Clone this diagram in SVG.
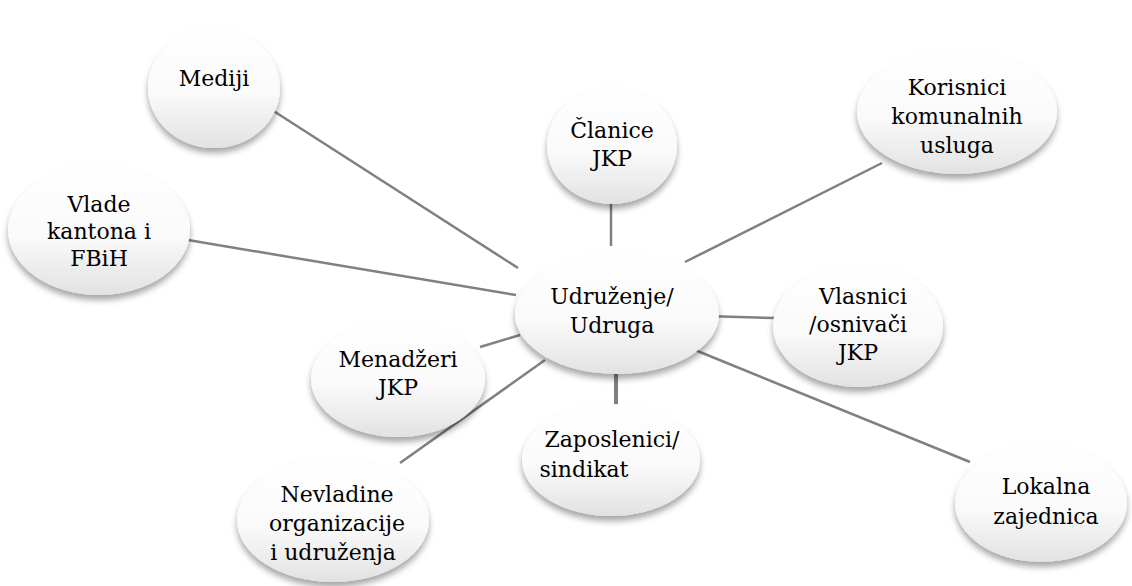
<svg xmlns="http://www.w3.org/2000/svg" width="1132" height="586" viewBox="0 0 1132 586">
<defs>
<linearGradient id="g" x1="0" y1="0" x2="0" y2="1">
<stop offset="0" stop-color="#ffffff"/>
<stop offset="0.55" stop-color="#fafafa"/>
<stop offset="1" stop-color="#e2e2e2"/>
</linearGradient>
<filter id="sh" x="-20%" y="-20%" width="140%" height="150%">
<feDropShadow dx="0" dy="5" stdDeviation="3" flood-color="#000" flood-opacity="0.35"/>
</filter>
</defs>
<style>
.n{fill:url(#g);filter:url(#sh)}
.c line{stroke:#808080;stroke-width:2.5}
.t text{font-size:22px;fill:#000;text-anchor:middle}
</style>
<rect width="1132" height="586" fill="#fff"/>
<g class="c" id="connectors">
<line x1="272" y1="110" x2="518" y2="268"/>
<line x1="188" y1="240" x2="516" y2="295"/>
<line x1="480" y1="347" x2="520" y2="335"/>
<line x1="400" y1="463" x2="545" y2="360"/>
<line x1="616" y1="372" x2="616" y2="406" style="stroke-width:4"/>
<line x1="695" y1="350" x2="970" y2="462"/>
<line x1="705" y1="316" x2="775" y2="318"/>
<line x1="685" y1="262" x2="882" y2="163"/>
<line x1="611" y1="203" x2="611" y2="246"/>
</g>
<g class="t">
<g id="mediji"><ellipse class="n" cx="214" cy="88" rx="66" ry="60"/><text x="214" y="86" font-family="DejaVu Serif, serif">Mediji</text></g>
<g id="clanice"><ellipse class="n" cx="612" cy="146" rx="65" ry="58"/><text x="612" y="138" font-family="DejaVu Serif, serif">Članice</text><text x="612" y="166" font-family="DejaVu Serif, serif">JKP</text></g>
<g id="korisnici"><ellipse class="n" cx="957" cy="112" rx="100" ry="62"/><text x="957" y="95" font-family="DejaVu Serif, serif">Korisnici</text><text x="957" y="124" font-family="DejaVu Serif, serif">komunalnih</text><text x="957" y="153" font-family="DejaVu Serif, serif">usluga</text></g>
<g id="vlade"><ellipse class="n" cx="99" cy="230" rx="91" ry="65"/><text x="99" y="212" font-family="DejaVu Serif, serif">Vlade</text><text x="99" y="239" font-family="DejaVu Serif, serif">kantona i</text><text x="99" y="266" font-family="DejaVu Serif, serif">FBiH</text></g>
<g id="udruzenje"><ellipse class="n" cx="617" cy="314" rx="102" ry="60"/><text x="612" y="304" font-family="DejaVu Serif, serif">Udruženje/</text><text x="612" y="333" font-family="DejaVu Serif, serif">Udruga</text></g>
<g id="vlasnici"><ellipse class="n" cx="858" cy="326" rx="85" ry="61"/><text x="863" y="304" font-family="DejaVu Serif, serif">Vlasnici</text><text x="858" y="332" font-family="DejaVu Serif, serif">/osnivači</text><text x="858" y="360" font-family="DejaVu Serif, serif">JKP</text></g>
<g id="menadzeri"><ellipse class="n" cx="398" cy="379" rx="87" ry="58"/><text x="398" y="367" font-family="DejaVu Serif, serif">Menadžeri</text><text x="398" y="395" font-family="DejaVu Serif, serif">JKP</text></g>
<g id="nevladine"><ellipse class="n" cx="333" cy="520" rx="96" ry="62"/><text x="337" y="502" font-family="DejaVu Serif, serif">Nevladine</text><text x="337" y="531" font-family="DejaVu Serif, serif">organizacije</text><text x="333" y="560" font-family="DejaVu Serif, serif">i udruženja</text></g>
<g id="zaposlenici"><ellipse class="n" cx="611" cy="460" rx="89" ry="56"/><text x="612" y="447" font-family="DejaVu Serif, serif">Zaposlenici/</text><text x="584" y="477" font-family="DejaVu Serif, serif">sindikat</text></g>
<g id="lokalna"><ellipse class="n" cx="1041" cy="503" rx="86" ry="59"/><text x="1046" y="494" font-family="DejaVu Serif, serif">Lokalna</text><text x="1046" y="524" font-family="DejaVu Serif, serif">zajednica</text></g>
</g>
</svg>
